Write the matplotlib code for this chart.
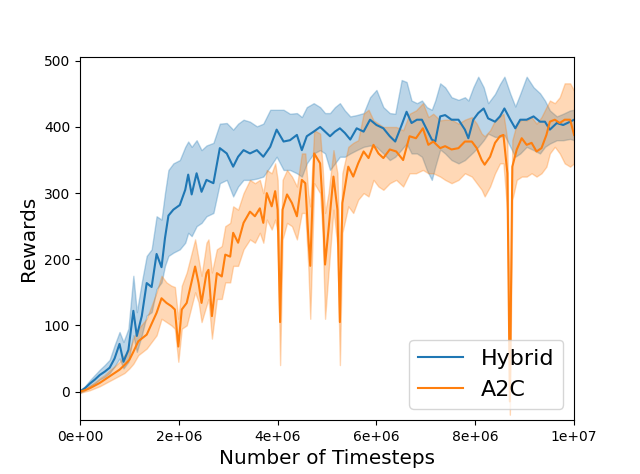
import numpy as np
import matplotlib
matplotlib.use('Agg')
import matplotlib.pyplot as plt
from matplotlib.ticker import FuncFormatter

# timesteps in units of 1e6
hyb_t = [0.0, 0.1, 0.2, 0.3, 0.4, 0.5, 0.6, 0.7, 0.8, 0.88, 0.98, 1.08, 1.15, 1.25, 1.35, 1.45,
         1.55, 1.65, 1.72, 1.79, 1.89, 2.02, 2.13, 2.19, 2.26, 2.36, 2.46, 2.56, 2.70, 2.83, 2.97,
         3.10, 3.20, 3.31, 3.44, 3.58, 3.71, 3.85, 3.98, 4.12, 4.25, 4.39, 4.49, 4.59, 4.73, 4.86,
         4.96, 5.06, 5.16, 5.26, 5.36, 5.47, 5.60, 5.74, 5.87, 6.00, 6.14, 6.27, 6.38, 6.51, 6.61,
         6.71, 6.82, 6.92, 7.02, 7.12, 7.19, 7.29, 7.39, 7.52, 7.66, 7.79, 7.86, 7.96, 8.06, 8.17,
         8.26, 8.40, 8.50, 8.59, 8.71, 8.81, 8.91, 9.04, 9.18, 9.31, 9.41, 9.51, 9.65, 9.78, 9.92, 10.0]
hyb_mean = [0, 5, 12, 18, 25, 30, 36, 50, 72, 45, 63, 122, 84, 114, 164, 158,
            208, 188, 232, 266, 275, 282, 305, 328, 298, 330, 302, 320, 315, 368, 360,
            340, 355, 365, 360, 365, 355, 370, 396, 378, 380, 388, 365, 386, 393, 400,
            393, 386, 393, 398, 391, 381, 398, 393, 411, 403, 398, 386, 378, 403, 423,
            406, 411, 411, 396, 381, 378, 416, 418, 411, 411, 396, 383, 411, 421, 428,
            413, 408, 416, 428, 411, 398, 411, 411, 416, 408, 408, 396, 406, 403, 408, 411]
hyb_lo = [-2, 2, 8, 12, 18, 22, 28, 38, 50, 35, 45, 85, 60, 85, 115, 120,
          155, 165, 190, 205, 210, 215, 225, 240, 235, 250, 255, 265, 270, 315, 320,
          295, 310, 320, 320, 322, 325, 340, 355, 335, 335, 330, 325, 345, 360, 365,
          360, 335, 345, 355, 355, 360, 365, 370, 372, 370, 360, 350, 355, 366, 375,
          360, 360, 355, 335, 320, 340, 366, 360, 350, 345, 350, 355, 362, 370, 380,
          390, 385, 385, 388, 370, 355, 360, 370, 365, 360, 370, 375, 380, 380, 382, 380]
hyb_hi = [2, 8, 17, 25, 33, 40, 48, 70, 90, 75, 95, 175, 120, 165, 205, 215,
          265, 260, 300, 335, 345, 350, 370, 378, 370, 380, 365, 372, 376, 405, 406,
          396, 405, 411, 408, 401, 405, 426, 426, 426, 420, 421, 415, 430, 436, 430,
          421, 421, 430, 436, 425, 416, 418, 421, 445, 456, 430, 421, 420, 471, 468,
          440, 436, 440, 430, 426, 440, 466, 460, 445, 441, 445, 440, 460, 476, 460,
          436, 450, 465, 476, 450, 431, 450, 476, 460, 451, 440, 425, 416, 420, 425, 426]

a2c_t = [0.0, 0.1, 0.2, 0.3, 0.4, 0.5, 0.6, 0.7, 0.8, 0.9, 1.0, 1.08, 1.18, 1.35, 1.55, 1.65,
         1.75, 1.85, 1.92, 1.99, 2.06, 2.16, 2.33, 2.40, 2.46, 2.56, 2.60, 2.67, 2.77, 2.87, 2.94,
         3.04, 3.10, 3.20, 3.31, 3.44, 3.54, 3.64, 3.71, 3.78, 3.88, 3.95, 4.00, 4.05, 4.10, 4.19,
         4.29, 4.39, 4.49, 4.56, 4.62, 4.66, 4.74, 4.86, 4.91, 4.96, 5.03, 5.13, 5.21, 5.26, 5.31,
         5.43, 5.53, 5.63, 5.74, 5.84, 5.94, 6.04, 6.14, 6.27, 6.40, 6.54, 6.67, 6.80, 6.94, 7.05,
         7.15, 7.29, 7.39, 7.52, 7.66, 7.79, 7.93, 8.03, 8.13, 8.19, 8.30, 8.40, 8.50, 8.57, 8.65,
         8.70, 8.75, 8.84, 8.94, 9.04, 9.14, 9.24, 9.34, 9.44, 9.51, 9.61, 9.71, 9.81, 9.92, 10.0]
a2c_mean = [0, 2, 5, 9, 13, 18, 23, 28, 33, 40, 48, 60, 76, 86, 119, 141,
            134, 129, 124, 68, 124, 134, 189, 164, 134, 179, 184, 114, 179, 174, 207,
            204, 240, 225, 255, 272, 265, 277, 255, 300, 280, 303, 275, 105, 275, 298,
            285, 265, 320, 315, 235, 190, 360, 345, 285, 192, 245, 325, 275, 105, 285,
            340, 325, 345, 363, 353, 373, 360, 353, 366, 363, 350, 386, 383, 398, 373,
            378, 368, 371, 366, 368, 378, 378, 368, 350, 343, 355, 376, 386, 388, 330,
            -15, 340, 366, 383, 373, 376, 363, 368, 388, 408, 411, 406, 411, 411, 388]
a2c_lo = [-2, 0, 2, 5, 8, 12, 16, 20, 24, 28, 35, 42, 55, 65, 85, 110,
          105, 100, 95, 45, 95, 100, 150, 135, 105, 130, 140, 80, 140, 140, 165,
          165, 190, 190, 215, 230, 225, 240, 225, 260, 245, 260, 240, 40, 230, 255,
          250, 230, 270, 270, 190, 110, 315, 300, 240, 110, 180, 275, 220, 40, 240,
          280, 270, 290, 300, 295, 320, 310, 305, 315, 320, 310, 330, 330, 335, 330,
          330, 325, 320, 315, 320, 330, 325, 315, 305, 295, 310, 330, 345, 345, 270,
          -35, 290, 320, 325, 325, 330, 325, 330, 340, 360, 370, 360, 345, 340, 345]
a2c_hi = [2, 4, 9, 14, 20, 25, 32, 38, 45, 55, 62, 80, 95, 110, 150, 175,
          165, 160, 158, 110, 160, 180, 230, 200, 175, 225, 230, 180, 215, 220, 250,
          255, 280, 275, 300, 320, 315, 320, 300, 335, 330, 345, 320, 180, 320, 335,
          325, 310, 360, 360, 300, 280, 395, 390, 340, 270, 300, 365, 330, 200, 330,
          370, 376, 380, 420, 426, 410, 405, 400, 400, 400, 395, 420, 425, 436, 415,
          420, 410, 411, 411, 405, 411, 415, 405, 390, 386, 395, 410, 416, 420, 380,
          10, 380, 405, 411, 410, 415, 405, 415, 430, 440, 436, 445, 466, 466, 455]

fig, ax = plt.subplots(figsize=(6.4, 4.74), dpi=100)
fig.subplots_adjust(left=0.125, right=0.897, top=0.880, bottom=0.114)

ht = np.array(hyb_t) * 1e6
at = np.array(a2c_t) * 1e6
ax.plot(ht, hyb_mean, color='#1f77b4', label='Hybrid')
ax.fill_between(ht, hyb_lo, hyb_hi, color='#1f77b4', alpha=0.3)
ax.plot(at, a2c_mean, color='#ff7f0e', label='A2C')
ax.fill_between(at, a2c_lo, a2c_hi, color='#ff7f0e', alpha=0.3)

ax.set_xlim(0, 1e7)
ax.set_ylim(-43, 506)
ax.set_xticks(np.arange(0, 1.01e7, 2e6))
ax.xaxis.set_major_formatter(FuncFormatter(lambda v, p: '{:.0e}'.format(v)))
ax.set_xlabel('Number of Timesteps', fontsize='x-large')
ax.set_ylabel('Rewards', fontsize='x-large')
ax.legend(loc='lower right', fontsize=16)

plt.savefig('out.png', dpi=100)
